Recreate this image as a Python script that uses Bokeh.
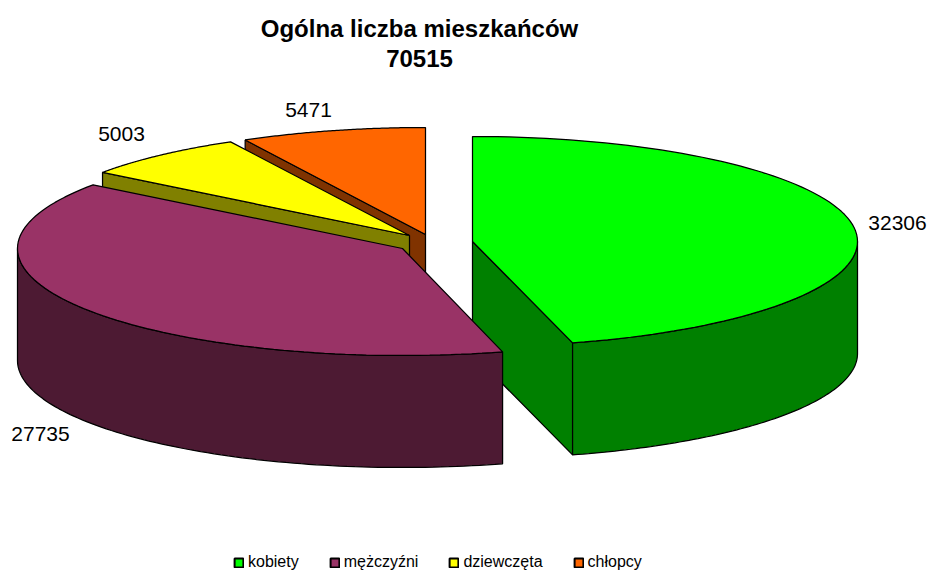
import math
from bokeh.plotting import figure
from bokeh.models import Legend, LegendItem
from bokeh.core.properties import value
from bokeh.embed import file_html
from bokeh.resources import INLINE

title_lines = ["Ogólna liczba mieszkańców", "70515"]
categories = ["kobiety", "mężczyźni", "dziewczęta", "chłopcy"]
values = [32306, 27735, 5003, 5471]
top_colors = ["#00FF00", "#993366", "#FFFF00", "#FF6600"]
side_colors = ["#008000", "#4D1A33", "#808000", "#803300"]

# Picture geometry (page pixels)
DEPTH = 112.0
radii_x = [385.0, 385.0, 382.0, 385.0]
radii_y = [105.0, 107.0, 106.0, 107.0]
centres = [(472, 241), (402, 248), (409, 235), (425, 234)]
label_pos = [(897, 222), (40, 433), (121, 133), (308, 109)]

W, H = 928, 570
p = figure(width=W, height=H, x_range=(0, W), y_range=(H, 0),
           output_backend="svg", toolbar_location=None,
           min_border=0, outline_line_color=None,
           background_fill_color="white", border_fill_color="white")
p.axis.visible = False
p.grid.visible = False

total = sum(values)
angles = []
a = 0.0
for v in values:
    b = a + 360.0 * v / total
    angles.append((a, b))
    a = b


def rim(i, t0, t1, dy=0.0, n=90):
    cx, cy = centres[i]
    pts = []
    for k in range(n + 1):
        t = math.radians(t0 + (t1 - t0) * k / n)
        pts.append((cx + radii_x[i] * math.sin(t), cy - radii_y[i] * math.cos(t) + dy))
    return pts


def poly(pts, color):
    return p.patch([q[0] for q in pts], [q[1] for q in pts], fill_color=color,
                   line_color="black", line_width=1.25)


for i in [0, 3, 2, 1]:
    cx, cy = centres[i]
    t0, t1 = angles[i]
    # radial walls facing the viewer
    for t, sign in ((t0, -1), (t1, 1)):
        r = math.radians(t)
        if sign * -math.sin(r) < -1e-6:
            ex = cx + radii_x[i] * math.sin(r)
            ey = cy - radii_y[i] * math.cos(r)
            poly([(cx, cy), (ex, ey), (ex, ey + DEPTH), (cx, cy + DEPTH)], side_colors[i])
    # outer wall (front half only)
    lo, hi = max(t0, 90.0), min(t1, 270.0)
    if lo < hi:
        poly(rim(i, lo, hi) + rim(i, hi, lo, DEPTH), side_colors[i])
    poly([(cx, cy)] + rim(i, t0, t1), top_colors[i])

p.text([q[0] for q in label_pos], [q[1] for q in label_pos],
       text=[str(v) for v in values], text_font=value("Liberation Sans"),
       text_font_size="21px", text_color="black",
       text_align="center", text_baseline="middle")

p.text([419, 419], [28, 58], text=title_lines, text_font=value("Liberation Sans"),
       text_font_style="bold", text_font_size="24px", text_color="black",
       text_align="center", text_baseline="middle")

nan = float("nan")
swatches = [p.quad(left=[nan], right=[nan], top=[nan], bottom=[nan], fill_color=c,
                   line_color="black", line_width=2) for c in top_colors]
legend = Legend(items=[LegendItem(label=c, renderers=[swatches[i]])
                       for i, c in enumerate(categories)],
                orientation="horizontal", location=(233, -1),
                label_text_font="Liberation Sans", label_text_font_size="16px",
                label_text_color="black", glyph_width=11, glyph_height=11,
                spacing=30, label_standoff=4, padding=4, margin=0,
                border_line_color=None, background_fill_alpha=0)
p.add_layout(legend, "center")

open("out.html", "w").write(file_html(p, INLINE))
